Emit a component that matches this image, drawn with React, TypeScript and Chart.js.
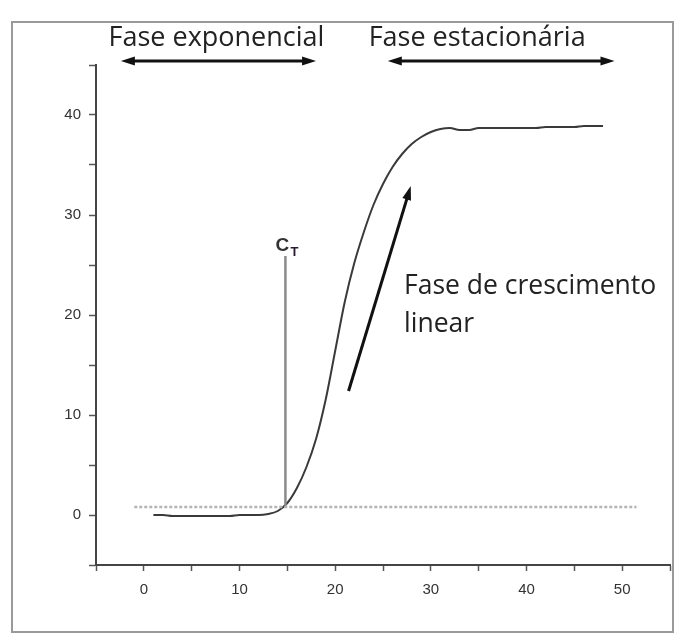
import React, { useEffect, useRef } from "react";
import { Chart, registerables } from "chart.js";

Chart.register(...registerables);

// Amplification curve (cycle -> fluorescence)
const cycles = [1, 2, 3, 4, 5, 6, 7, 8, 9, 10, 11, 12, 13, 14, 15, 16, 17, 18, 19, 20, 21, 22, 23, 24, 25, 26, 27, 28, 29, 30, 31, 32, 33, 34, 35, 36, 37, 38, 39, 40, 41, 42, 43, 44, 45, 46, 47, 48];
const fluorescence = [0.0, 0.0, -0.1, -0.1, -0.1, -0.1, -0.1, -0.1, -0.1, 0.0, 0.0, 0.0, 0.1, 0.4, 1.2, 2.7, 4.8, 7.6, 11.5, 16.4, 21.3, 25.2, 28.3, 31.0, 33.1, 34.8, 36.1, 37.1, 37.8, 38.3, 38.6, 38.7, 38.5, 38.5, 38.7, 38.7, 38.7, 38.7, 38.7, 38.7, 38.7, 38.8, 38.8, 38.8, 38.8, 38.9, 38.9, 38.9];

// Threshold line
const thresholdX = [-1, 51.5];
const thresholdY = 0.8;

// Ct marker
const ctCycle = 14.8;
const ctRange = [0.9, 25.9];

// Phase arrows (cycle ranges)
const exponentialRange = [-2.4, 18];
const stationaryRange = [25.5, 49.2];
// Linear growth arrow: [cycle, fluorescence] start -> end
const linearArrowStart = [21.4, 12.4];
const linearArrowEnd = [27.9, 32.9];

// Axis settings
const xMin = -5, xMax = 55, yMin = -5, yMax = 45;
const xLabelled = [0, 10, 20, 30, 40, 50];
const yLabelled = [0, 10, 20, 30, 40];

const labelExp = "Fase exponencial";
const labelStat = "Fase estacionária";
const labelLinear1 = "Fase de crescimento";
const labelLinear2 = "linear";

function drawHead(ctx: CanvasRenderingContext2D, x0: number, y0: number, x1: number, y1: number, len: number, half: number) {
  const a = Math.atan2(y1 - y0, x1 - x0);
  ctx.beginPath();
  ctx.moveTo(x1, y1);
  ctx.lineTo(x1 - len * Math.cos(a) + half * Math.sin(a), y1 - len * Math.sin(a) - half * Math.cos(a));
  ctx.lineTo(x1 - len * Math.cos(a) - half * Math.sin(a), y1 - len * Math.sin(a) + half * Math.cos(a));
  ctx.closePath();
  ctx.fill();
}

const annotations = {
  id: "annotations",
  afterDraw(chart: any) {
    const ctx: CanvasRenderingContext2D = chart.ctx;
    const xs = chart.scales.x;
    const ys = chart.scales.y;
    ctx.save();
    // frame
    ctx.strokeStyle = "#9a9a9a";
    ctx.lineWidth = 2;
    ctx.strokeRect(12, 22, 661, 610);

    // phase double arrows
    const arrowY = chart.chartArea.top - 4;
    ctx.strokeStyle = "#111";
    ctx.fillStyle = "#111";
    ctx.lineWidth = 3;
    for (const r of [exponentialRange, stationaryRange]) {
      const a = xs.getPixelForValue(r[0]);
      const b = xs.getPixelForValue(r[1]);
      ctx.beginPath();
      ctx.moveTo(a + 6, arrowY);
      ctx.lineTo(b - 6, arrowY);
      ctx.stroke();
      drawHead(ctx, b - 10, arrowY, b, arrowY, 14, 4.5);
      drawHead(ctx, a + 10, arrowY, a, arrowY, 14, 4.5);
    }
    ctx.font = "27px 'Open Sans'";
    ctx.fillStyle = "#222";
    ctx.textAlign = "center";
    ctx.textBaseline = "alphabetic";
    ctx.fillText(labelExp, (xs.getPixelForValue(exponentialRange[0]) + xs.getPixelForValue(exponentialRange[1])) / 2 - 2, arrowY - 15);
    ctx.fillText(labelStat, (xs.getPixelForValue(stationaryRange[0]) + xs.getPixelForValue(stationaryRange[1])) / 2 - 24, arrowY - 15);

    // Ct line
    const cx = xs.getPixelForValue(ctCycle);
    ctx.strokeStyle = "#8a8a8a";
    ctx.lineWidth = 2.5;
    ctx.beginPath();
    ctx.moveTo(cx, ys.getPixelForValue(ctRange[1]));
    ctx.lineTo(cx, ys.getPixelForValue(ctRange[0]));
    ctx.stroke();
    ctx.fillStyle = "#333";
    ctx.textAlign = "center";
    ctx.font = "bold 19px 'Liberation Sans'";
    const ctTop = ys.getPixelForValue(ctRange[1]);
    ctx.fillText("C", cx - 3, ctTop - 5);
    ctx.font = "bold 13px 'Liberation Sans'";
    ctx.fillStyle = "#2a1a30";
    ctx.fillText("T", cx + 9, ctTop - 0);

    // linear arrow
    const p0x = xs.getPixelForValue(linearArrowStart[0]);
    const p0y = ys.getPixelForValue(linearArrowStart[1]);
    const p1x = xs.getPixelForValue(linearArrowEnd[0]);
    const p1y = ys.getPixelForValue(linearArrowEnd[1]);
    ctx.strokeStyle = "#111";
    ctx.fillStyle = "#111";
    ctx.lineWidth = 3;
    ctx.beginPath();
    ctx.moveTo(p0x, p0y);
    const ang = Math.atan2(p1y - p0y, p1x - p0x);
    ctx.lineTo(p1x - 10 * Math.cos(ang), p1y - 10 * Math.sin(ang));
    ctx.stroke();
    drawHead(ctx, p0x, p0y, p1x, p1y, 14, 4.5);

    ctx.font = "26.5px 'Open Sans'";
    ctx.fillStyle = "#222";
    ctx.textAlign = "left";
    ctx.fillText(labelLinear1, 404, 294);
    ctx.fillText(labelLinear2, 404, 332);
    ctx.restore();
  },
};

export default function App() {
  const ref = useRef<HTMLCanvasElement | null>(null);
  useEffect(() => {
    if (!ref.current) return;
    const chart = new Chart(ref.current, {
      type: "line",
      data: {
        datasets: [
          {
            label: "threshold",
            data: thresholdX.map((x) => ({ x, y: thresholdY })),
            borderColor: "#b5b5b5",
            borderWidth: 2.5,
            borderDash: [3, 2],
            pointRadius: 0,
          },
          {
            label: "fluorescence",
            data: cycles.map((c, i) => ({ x: c, y: fluorescence[i] })),
            borderColor: "#3a3a3a",
            borderWidth: 2,
            pointRadius: 0,
            tension: 0.4,
            cubicInterpolationMode: "monotone",
          },
        ],
      },
      options: {
        animation: false,
        responsive: false,
        layout: { padding: { top: 65, right: 8, left: 0, bottom: 0 } },
        plugins: { legend: { display: false }, tooltip: { enabled: false } },
        scales: {
          x: {
            type: "linear",
            min: xMin,
            max: xMax,
            afterFit: (s: any) => { s.height = 70; },
            ticks: {
              stepSize: 5,
              autoSkip: false,
              maxRotation: 0,
              color: "#333",
              font: { family: "'Liberation Sans'", size: 15 },
              padding: 10,
              callback: (v: any) => (xLabelled.includes(Number(v)) ? String(v) : ""),
            },
            grid: { drawOnChartArea: false, tickLength: 6, color: "#555", tickWidth: 1.5 },
            border: { display: true, color: "#444", width: 2 },
          },
          y: {
            type: "linear",
            min: yMin,
            max: yMax,
            afterFit: (s: any) => { s.width = 96; },
            ticks: {
              stepSize: 5,
              autoSkip: false,
              color: "#333",
              font: { family: "'Liberation Sans'", size: 15 },
              padding: 8,
              callback: (v: any) => (yLabelled.includes(Number(v)) ? String(v) : ""),
            },
            grid: { drawOnChartArea: false, tickLength: 7, color: "#555", tickWidth: 1.5 },
            border: { display: true, color: "#444", width: 2 },
          },
        },
      },
      plugins: [annotations],
    });
    return () => chart.destroy();
  }, []);
  return (
    <div style={{ position: "absolute", left: 0, top: 0, width: 680, height: 635, background: "#fff" }}>
      <canvas ref={ref} width={680} height={635} />
    </div>
  );
}
